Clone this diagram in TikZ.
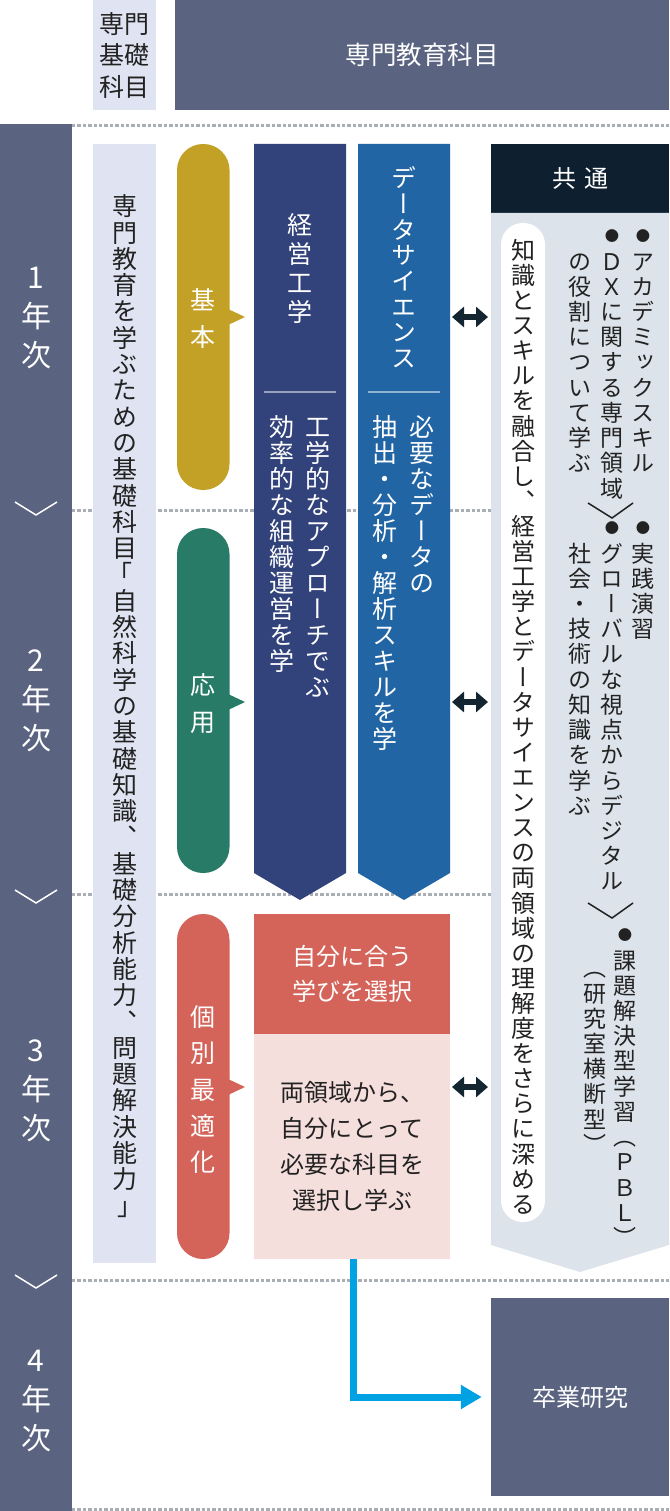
\documentclass[tikz,border=0pt]{standalone}
\usepackage{fontspec}
\usepackage{graphicx}
\setmainfont{Noto Sans CJK JP}
\newfontfamily\tatefont[RawFeature=+vert]{Noto Sans CJK JP}
\newfontfamily\yokofont{Noto Sans CJK JP}
\usetikzlibrary{arrows.meta}

\definecolor{colSlate}{HTML}{5A6380}
\definecolor{colLav}{HTML}{E0E3F1}
\definecolor{colKihon}{HTML}{C3A126}
\definecolor{colOuyou}{HTML}{277B67}
\definecolor{colKobetsu}{HTML}{D4645A}
\definecolor{colPink}{HTML}{F5DFDD}
\definecolor{colKeiei}{HTML}{32427B}
\definecolor{colData}{HTML}{2265A5}
\definecolor{colKyotsu}{HTML}{0E2030}
\definecolor{colCommon}{HTML}{DCE3EA}
\definecolor{colFlow}{HTML}{00A2E4}
\definecolor{colDots}{HTML}{A9AEB4}
\definecolor{colArrow}{HTML}{132531}
\definecolor{colInk}{HTML}{222222}

\newcommand\fsz[1]{\fontsize{#1}{#1}\selectfont}
\newcommand\bul{\raisebox{.14em}{\scalebox{.62}{●}}}

% vertical text: one character per cell, pitch in em
\ExplSyntaxOn
\NewDocumentCommand\tate{O{1.05}m}
  {
    \vbox
      {
        \offinterlineskip \tatefont
        \tl_map_inline:nn {#2}
          {
            \hbox to 1em {\hss \vrule height .88em depth .12em width 0pt \smash{##1} \hss}
            \kern \dimexpr #1em - 1em \relax
          }
        \unkern
      }
  }
\ExplSyntaxOff

\begin{document}
\begin{tikzpicture}[x=1pt,y=-1pt,
    tt/.style={inner sep=0pt,anchor=north},
    box/.style={inner sep=0pt,align=center},
    dots/.style={draw=colDots,line width=3pt,dash pattern=on 3.4pt off 2pt},
    chev/.style={line width=1.5pt},
    dbl/.style={draw=colArrow,line width=6pt,{Triangle[length=12pt,width=20pt]}-{Triangle[length=12pt,width=20pt]}},
    flow/.style={draw=colFlow,line width=7pt,-{Triangle[length=21pt,width=23pt]}}]
    \useasboundingbox (0,0) rectangle (669,1511);

    % header
    \node[box,fill=colLav,minimum width=63pt,minimum height=110pt,text=colInk,font=\fontsize{25}{31.5}\selectfont] (kiso) at (124.5,55) {専門\\基礎\\科目};
    \node[box,fill=colSlate,minimum width=494pt,minimum height=110pt,text=white,font=\fsz{25.5}] (senmon) at (422,55) {専門教育科目};

    % year grid
    \foreach \y in {126,510,894,1280,1509}
        \draw[dots] (72,\y) -- (669,\y);
    \fill[colSlate] (0,124) rectangle (72,1511);
    \foreach \y in {502,890,1275}
        \draw[white,chev] (15,\y) -- (36,\y+13) -- (57,\y);
    \node[tt,text=white,font=\fsz{30}] (year1) at (36,262) {\tate[1.3]{1年次}};
    \node[tt,text=white,font=\fsz{30}] (year2) at (36,645) {\tate[1.3]{2年次}};
    \node[tt,text=white,font=\fsz{30}] (year3) at (36,1035) {\tate[1.3]{3年次}};
    \node[tt,text=white,font=\fsz{30}] (year4) at (36,1345) {\tate[1.3]{4年次}};

    % basic subjects
    \fill[colLav] (93,144) rectangle (156,1263);
    \node[tt,text=colInk,font=\fsz{25}] (kisotext) at (124.5,193.5)
        {\tate[1.052]{専門教育を学ぶための基礎科目{\yokofont\kern-.4em「}自然科学の基礎知識、基礎分析能力、問題解決能力{\yokofont\kern.4em」}}};

    % stages
    \fill[colKihon,rounded corners=26pt] (177,144) rectangle (229.5,490);
    \fill[colKihon] (228,309) -- (245,317) -- (228,325) -- cycle;
    \node[tt,text=white,font=\fsz{25}] (kihon) at (203.25,287.5) {\tate[1.48]{基本}};
    \fill[colOuyou,rounded corners=26pt] (177,528) rectangle (229.5,873);
    \fill[colOuyou] (228,694) -- (245,702) -- (228,710) -- cycle;
    \node[tt,text=white,font=\fsz{25}] (ouyou) at (203.25,672.5) {\tate[1.48]{応用}};
    \fill[colKobetsu,rounded corners=26pt] (177,914) rectangle (229.5,1259);
    \fill[colKobetsu] (228,1079) -- (245,1087) -- (228,1095) -- cycle;
    \node[tt,text=white,font=\fsz{25}] (kobetsu) at (203.25,1004.5) {\tate[1.45]{個別最適化}};

    % management engineering
    \fill[colKeiei] (254,144) -- (346,144) -- (346,873) -- (300,900) -- (254,873) -- cycle;
    \node[tt,text=white,font=\fsz{25}] (keiei) at (300,212.5) {\tate[1.16]{経営工学}};
    \draw[white!50!colKeiei,line width=1.2pt] (264,392) -- (336,392);
    \node[tt,text=white,font=\fsz{25}] (keiei1) at (318,414.5) {\tate[1.04]{工学的なアプローチでぶ}};
    \node[tt,text=white,font=\fsz{25}] (keiei2) at (282,414.5) {\tate[1.04]{効率的な組織運営を学}};

    % data science
    \fill[colData] (358,144) -- (450,144) -- (450,873) -- (404,900) -- (358,873) -- cycle;
    \node[tt,text=white,font=\fsz{25}] (data) at (404,165.5) {\tate[1.028]{データサイエンス}};
    \draw[white!50!colData,line width=1.2pt] (368,392) -- (440,392);
    \node[tt,text=white,font=\fsz{25}] (data1) at (422,414.5) {\tate[1.04]{必要なデータの}};
    \node[tt,text=white,font=\fsz{25}] (data2) at (385,414.5) {\tate[1.04]{抽出・分析・解析スキルを学}};

    % choice
    \node[box,fill=colKobetsu,minimum width=196pt,minimum height=120pt,text=white,font=\fontsize{24}{35}\selectfont] (erabu) at (352,974) {自分に合う\\学びを選択};
    \node[box,fill=colPink,minimum width=196pt,minimum height=225pt,text=colInk,font=\fontsize{24}{36}\selectfont] (choice) at (352,1146.5) {両領域から、\\自分にとって\\必要な科目を\\選択し学ぶ};

    % common
    \node[box,fill=colKyotsu,minimum width=178pt,minimum height=69pt,text=white,font=\fsz{24}] (kyotsu) at (580,178.5) {共\hspace{8pt}通};
    \fill[colCommon] (491,213) -- (669,213) -- (669,1245) -- (580,1272) -- (491,1245) -- cycle;
    \fill[white,rounded corners=21.5pt] (501,223) rectangle (545,1222);
    \node[tt,text=colInk,font=\fsz{24}] (yugo) at (523,238)
        {\tate[1.046]{知識とスキルを融合し、経営工学とデータサイエンスの両領域の理解度をさらに深める}};
    \node[tt,text=colInk,font=\fsz{23}] (acad) at (643,224.5) {\tate[1.096]{\bul アカデミックスキル}};
    \node[tt,text=colInk,font=\fsz{23}] (dx) at (612,224.5) {\tate[1.096]{\bul ＤＸに関する専門領域}};
    \node[tt,text=colInk,font=\fsz{23}] (dx2) at (580,249.7) {\tate[1.096]{の役割について学ぶ}};
    \draw[colInk,chev] (588,503) -- (612,518) -- (633,503);
    \node[tt,text=colInk,font=\fsz{23}] (jissen) at (643,516.5) {\tate[1.096]{\bul 実践演習}};
    \node[tt,text=colInk,font=\fsz{23}] (global) at (612,516.5) {\tate[1.096]{\bul グローバルな視点からデジタル}};
    \node[tt,text=colInk,font=\fsz{23}] (global2) at (580,541.7) {\tate[1.096]{社会・技術の知識を学ぶ}};
    \draw[colInk,chev] (588,903) -- (612,918) -- (633,903);
    \node[tt,text=colInk,font=\fsz{23}] (pbl) at (625,923.5) {\tate[1.096]{\bul 課題解決型学習（ＰＢＬ）}};
    \node[tt,text=colInk,font=\fsz{23}] (pbl2) at (595,956.5) {\tate[1.096]{（研究室横断型）}};

    % links
    \coordinate (ds1) at (452,317);
    \coordinate (cm1) at (488,317);
    \coordinate (ds2) at (452,702);
    \coordinate (cm2) at (488,702);
    \coordinate (ds3) at (452,1087);
    \coordinate (cm3) at (488,1087);
    \draw[dbl] (ds1) -- (cm1);
    \draw[dbl] (ds2) -- (cm2);
    \draw[dbl] (ds3) -- (cm3);

    % graduation
    \node[box,fill=colSlate,minimum width=178pt,minimum height=198pt,text=white,font=\fsz{24}] (thesis) at (580,1397) {卒業研究};
    \draw[flow] ([xshift=1.5pt]choice.south) |- ([xshift=-9pt]thesis.west);
\end{tikzpicture}
\end{document}
